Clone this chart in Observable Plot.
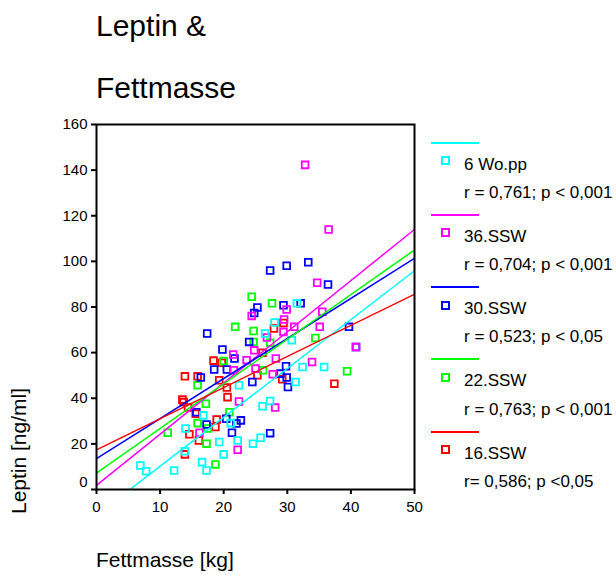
<!DOCTYPE html>
<html>
<head>
<meta charset="utf-8">
<script src="https://cdn.jsdelivr.net/npm/d3@7"></script>
<script src="https://cdn.jsdelivr.net/npm/@observablehq/plot@0.6"></script>
<style>
  html, body { margin: 0; padding: 0; background: #fff; }
  #wrap { position: relative; width: 616px; height: 575px; overflow: hidden;
          font-family: "Liberation Sans", Arial, sans-serif; color: #000; }
  .abs { position: absolute; white-space: nowrap; line-height: 1; }
  #chart { position: absolute; left: 0; top: 0; }
</style>
</head>
<body>
<div id="wrap">
  <div id="chart"></div>
</div>
<script>
// ---- data ----
const seriesNames = ["6 Wo.pp", "36.SSW", "30.SSW", "22.SSW", "16.SSW"];
const seriesColors = ["#00ffff", "#ff00ff", "#0000ff", "#00ff00", "#ff0000"];
const seriesStats = ["r = 0,761; p < 0,001", "r = 0,704; p < 0,001", "r = 0,523; p < 0,05", "r = 0,763; p < 0,001", "r= 0,586; p <0,05"];

const wo6Fat    = [6.9, 7.8, 12.2, 13.9, 14.0, 16.8, 16.6, 17.3, 19.3, 20.0, 21.1, 22.2, 24.6, 25.8, 26.1, 27.3, 26.5, 28.0, 30.7, 31.3, 32.4, 35.8, 31.5, 22.4];
const wo6Leptin = [10.5, 8.0, 8.3, 16.8, 26.7, 32.5, 12.0, 8.3, 20.8, 15.4, 29.1, 21.5, 20.1, 22.7, 36.5, 38.8, 68.4, 73.2, 65.4, 47.1, 53.7, 53.7, 81.6, 45.7];

const ssw36Fat    = [32.8, 36.5, 34.7, 40.8, 35.5, 35.1, 29.9, 29.5, 31.1, 29.4, 24.4, 26.8, 24.8, 23.6, 21.5, 25.0, 27.7, 28.2, 33.9, 22.4, 28.1, 22.2, 16.2, 21.6];
const ssw36Leptin = [142.3, 114.0, 90.6, 62.5, 77.9, 71.3, 78.9, 74.5, 71.3, 69.1, 76.1, 66.6, 61.0, 56.7, 59.2, 53.0, 50.5, 57.4, 55.9, 38.6, 35.9, 17.4, 24.9, 52.3];

const ssw30Fat    = [27.3, 29.9, 33.3, 36.4, 25.3, 24.8, 29.4, 32.1, 39.7, 40.8, 17.4, 19.8, 24.0, 21.7, 18.5, 20.5, 16.4, 29.8, 29.9, 30.1, 24.5, 15.7, 17.3, 20.4, 22.0, 22.7, 21.3, 27.3, 28.9];
const ssw30Leptin = [96.0, 98.1, 99.6, 89.9, 79.8, 77.4, 80.8, 81.6, 71.3, 62.5, 68.4, 61.4, 64.7, 57.4, 52.6, 52.6, 49.1, 54.0, 49.1, 44.9, 47.1, 33.9, 28.5, 31.0, 28.9, 30.3, 24.9, 24.7, 50.8];

const ssw22Fat    = [24.4, 27.6, 21.8, 24.7, 24.7, 27.3, 34.4, 39.4, 26.2, 20.0, 15.9, 17.2, 20.9, 15.9, 17.5, 11.2, 17.3, 18.7];
const ssw22Leptin = [84.5, 81.6, 71.3, 69.5, 64.7, 64.3, 66.4, 51.8, 52.3, 56.3, 45.7, 37.6, 33.9, 29.1, 26.7, 24.9, 20.1, 11.0];

const ssw16Fat    = [18.4, 19.7, 13.9, 15.9, 19.3, 20.5, 20.6, 13.5, 13.7, 14.4, 15.6, 18.7, 14.6, 16.1, 13.9, 29.4, 27.9, 26.1, 25.3, 29.2, 37.4, 18.9];
const ssw16Leptin = [56.5, 55.6, 49.6, 49.6, 47.9, 44.7, 40.5, 39.4, 38.3, 35.9, 33.2, 27.4, 24.2, 21.5, 15.4, 73.0, 70.6, 59.9, 50.1, 48.3, 46.4, 30.7];

// regression lines: fitted leptin at fat mass 0 and 50
const fitX = [0, 50];
const fitStart = [-11.25, 1.8, 13.5, 7.2, 17.4];
const fitEnd   = [95.9, 114.0, 101.3, 105.0, 85.6];

const xTicks = [0, 10, 20, 30, 40, 50];
const yTicks = [0, 20, 40, 60, 80, 100, 120, 140, 160];

const titleLines = ["Leptin &", "Fettmasse"];
const xLabel = "Fettmasse [kg]";
const yLabel = "Leptin [ng/ml]";

// ---- build tables ----
const fats = [wo6Fat, ssw36Fat, ssw30Fat, ssw22Fat, ssw16Fat];
const leps = [wo6Leptin, ssw36Leptin, ssw30Leptin, ssw22Leptin, ssw16Leptin];
const points = [];
seriesNames.forEach((s, i) => fats[i].forEach((f, j) => points.push({series: s, fat: f, leptin: leps[i][j]})));
const fits = [];
seriesNames.forEach((s, i) => {
  fits.push({series: s, fat: fitX[0], leptin: fitStart[i]});
  fits.push({series: s, fat: fitX[1], leptin: fitEnd[i]});
});
const dotOrder = [...seriesNames].reverse();
const orderedPoints = dotOrder.flatMap(s => points.filter(p => p.series === s));

const font = '"Liberation Sans", Arial, sans-serif';

const plot = Plot.plot({
  width: 616,
  height: 575,
  marginLeft: 96,
  marginRight: 202,
  marginTop: 124,
  marginBottom: 86,
  style: {fontFamily: font, fontSize: "15px", color: "#000", background: "transparent"},
  x: {domain: [0, 50]},
  y: {domain: [0, 160]},
  color: {domain: seriesNames, range: seriesColors},
  marks: [
    Plot.dot(orderedPoints, {x: "fat", y: "leptin", stroke: "series", symbol: "square", r: 3.8, strokeWidth: 1.8}),
    Plot.line(fits, {x: "fat", y: "leptin", z: "series", stroke: "series", strokeWidth: 1.5, clip: true}),
    Plot.frame({stroke: "#000", strokeWidth: 2}),
    Plot.axisX({ticks: xTicks, tickSize: 5, tickPadding: 7, strokeWidth: 2, label: null, fontSize: 15}),
    Plot.axisY({ticks: yTicks, tickSize: 5, tickPadding: 4, strokeWidth: 2, label: null, fontSize: 15,
                tickFormat: d => d === 0 ? "" : d}),
    Plot.axisY({ticks: [0], tickSize: 0, tickPadding: 9, dy: -7, label: null, fontSize: 15})
  ]
});
document.getElementById("chart").appendChild(plot);

const wrap = document.getElementById("wrap");
function addText(txt, left, baseline, size, extra = "") {
  const d = document.createElement("div");
  d.className = "abs";
  d.textContent = txt;
  d.style.cssText += `left:${left}px;top:${baseline - 0.8465 * size}px;font-size:${size}px;${extra}`;
  wrap.appendChild(d);
  return d;
}
// title
addText(titleLines[0], 96, 36, 30);
addText(titleLines[1], 96, 98.5, 30);

// axis labels
addText(xLabel, 96, 567, 21);
const yl = document.createElement("div");
yl.className = "abs";
yl.textContent = yLabel;
yl.style.cssText += `left:18px;top:451px;font-size:21px;transform:translate(-50%,-50%) rotate(-90deg);`;
wrap.appendChild(yl);

// legend
seriesNames.forEach((s, i) => {
  const y0 = 142.7 + i * 72.2;
  const ln = document.createElement("div");
  ln.className = "abs";
  ln.style.cssText += `left:431px;top:${y0 - 1}px;width:48px;height:2px;background:${seriesColors[i]};`;
  wrap.appendChild(ln);
  const sq = document.createElement("div");
  sq.className = "abs";
  sq.style.cssText += `left:${445 - 4.5}px;top:${y0 + 18 - 4.5}px;width:5px;height:5px;border:2px solid ${seriesColors[i]};`;
  wrap.appendChild(sq);
  addText(s, 464, y0 + 27.5, 17);
  addText(seriesStats[i], 464, y0 + 55.6, 17);
});
</script>
</body>
</html>
